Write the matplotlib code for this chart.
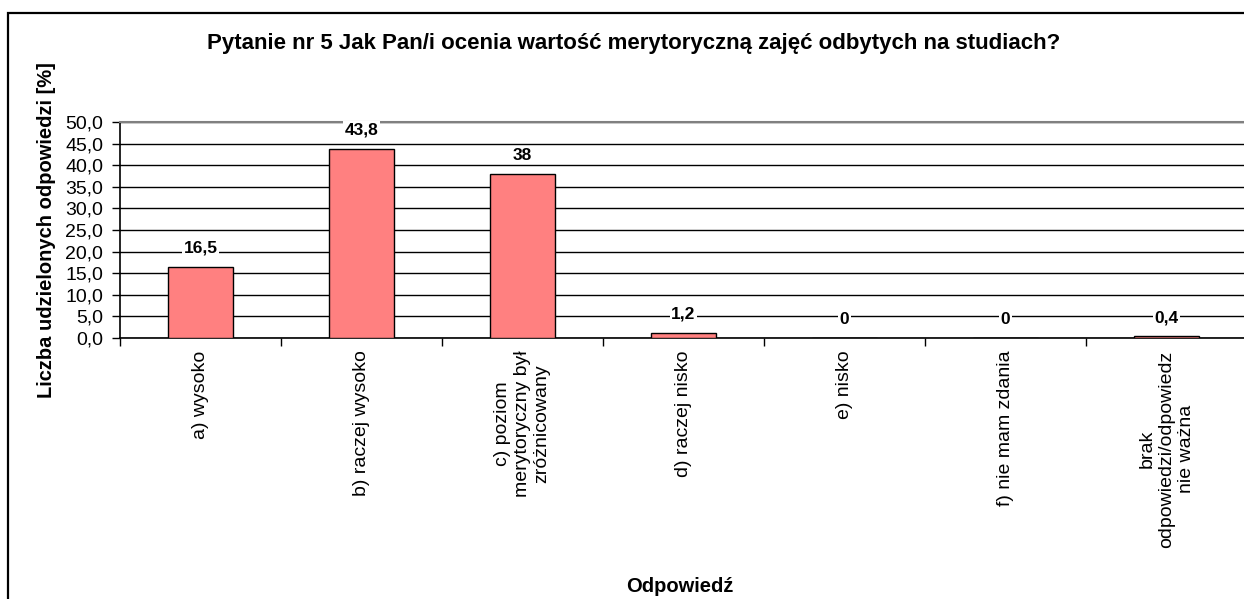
import matplotlib
matplotlib.use('Agg')
import matplotlib.pyplot as plt
from matplotlib.patches import Rectangle
from matplotlib.ticker import FuncFormatter, FixedLocator
import numpy as np

plt.rcParams['font.family'] = ['Liberation Sans', 'DejaVu Sans']

# dane z wykresu
categories = ['a) wysoko', 'b) raczej wysoko', 'c) poziom\nmerytoryczny był\nzróżnicowany',
              'd) raczej nisko', 'e) nisko', 'f) nie mam zdania',
              'brak\nodpowiedzi/odpowiedz\nnie ważna']
values = [16.5, 43.8, 38, 1.2, 0, 0, 0.4]
yticks = [0, 5, 10, 15, 20, 25, 30, 35, 40, 45, 50]

W, H = 1244, 599
fig = plt.figure(figsize=(W / 100, H / 100), dpi=100)

# ramka wokol calego wykresu
fig.patches.append(Rectangle((8 / W, -0.1), 1.2, 1 - 13 / H + 0.1, transform=fig.transFigure,
                             fill=False, edgecolor='black', linewidth=1.6))

left, right, top, bottom = 120, 1247, 122, 338
ax = fig.add_axes([left / W, 1 - bottom / H, (right - left) / W, (bottom - top) / H])

x = np.arange(len(values))
ax.bar(x, values, width=0.4, color='#FF8080', edgecolor='black', linewidth=1, zorder=3)

ax.set_xlim(-0.5, len(values) - 0.5)
ax.set_ylim(0, 50)
ax.set_yticks(yticks)
ax.yaxis.set_major_formatter(FuncFormatter(lambda v, p: f'{v:.1f}'.replace('.', ',')))
ax.grid(axis='y', color='black', linewidth=1, zorder=1)
ax.set_axisbelow(True)

ax.set_xticks(x)
ax.set_xticklabels(categories, rotation=90, ha='center', va='top', multialignment='center')
ax.xaxis.set_minor_locator(FixedLocator(np.arange(-0.5, len(values), 1)))
ax.tick_params(axis='x', which='major', length=0, pad=9, labelsize=14)
ax.tick_params(axis='x', which='minor', length=6, width=1, color='black')
ax.tick_params(axis='y', length=6, width=1, pad=6, labelsize=14)

for s in ['left', 'bottom']:
    ax.spines[s].set_color('black')
    ax.spines[s].set_linewidth(1.2)
for s in ['top', 'right']:
    ax.spines[s].set_color('#808080')
    ax.spines[s].set_linewidth(1.5)

for xi, v in zip(x, values):
    ax.annotate(f'{v:g}'.replace('.', ','), (xi, v), xytext=(0, 13.5), textcoords='offset points',
                ha='center', va='center', fontsize=12.5, fontweight='bold', zorder=4,
                bbox=dict(facecolor='white', edgecolor='none', pad=1))

ax.set_ylabel('Liczba udzielonych odpowiedzi [%]', fontsize=14.5, fontweight='bold', labelpad=7)

fig.text(634 / W, 1 - 44 / H, 'Pytanie nr 5 Jak Pan/i ocenia wartość merytoryczną zajęć odbytych na studiach?',
         ha='center', va='center', fontsize=16, fontweight='bold')
fig.text(680 / W, 1 - 587 / H, 'Odpowiedź', ha='center', va='center', fontsize=14.5, fontweight='bold')

fig.savefig('out.png', dpi=100)
